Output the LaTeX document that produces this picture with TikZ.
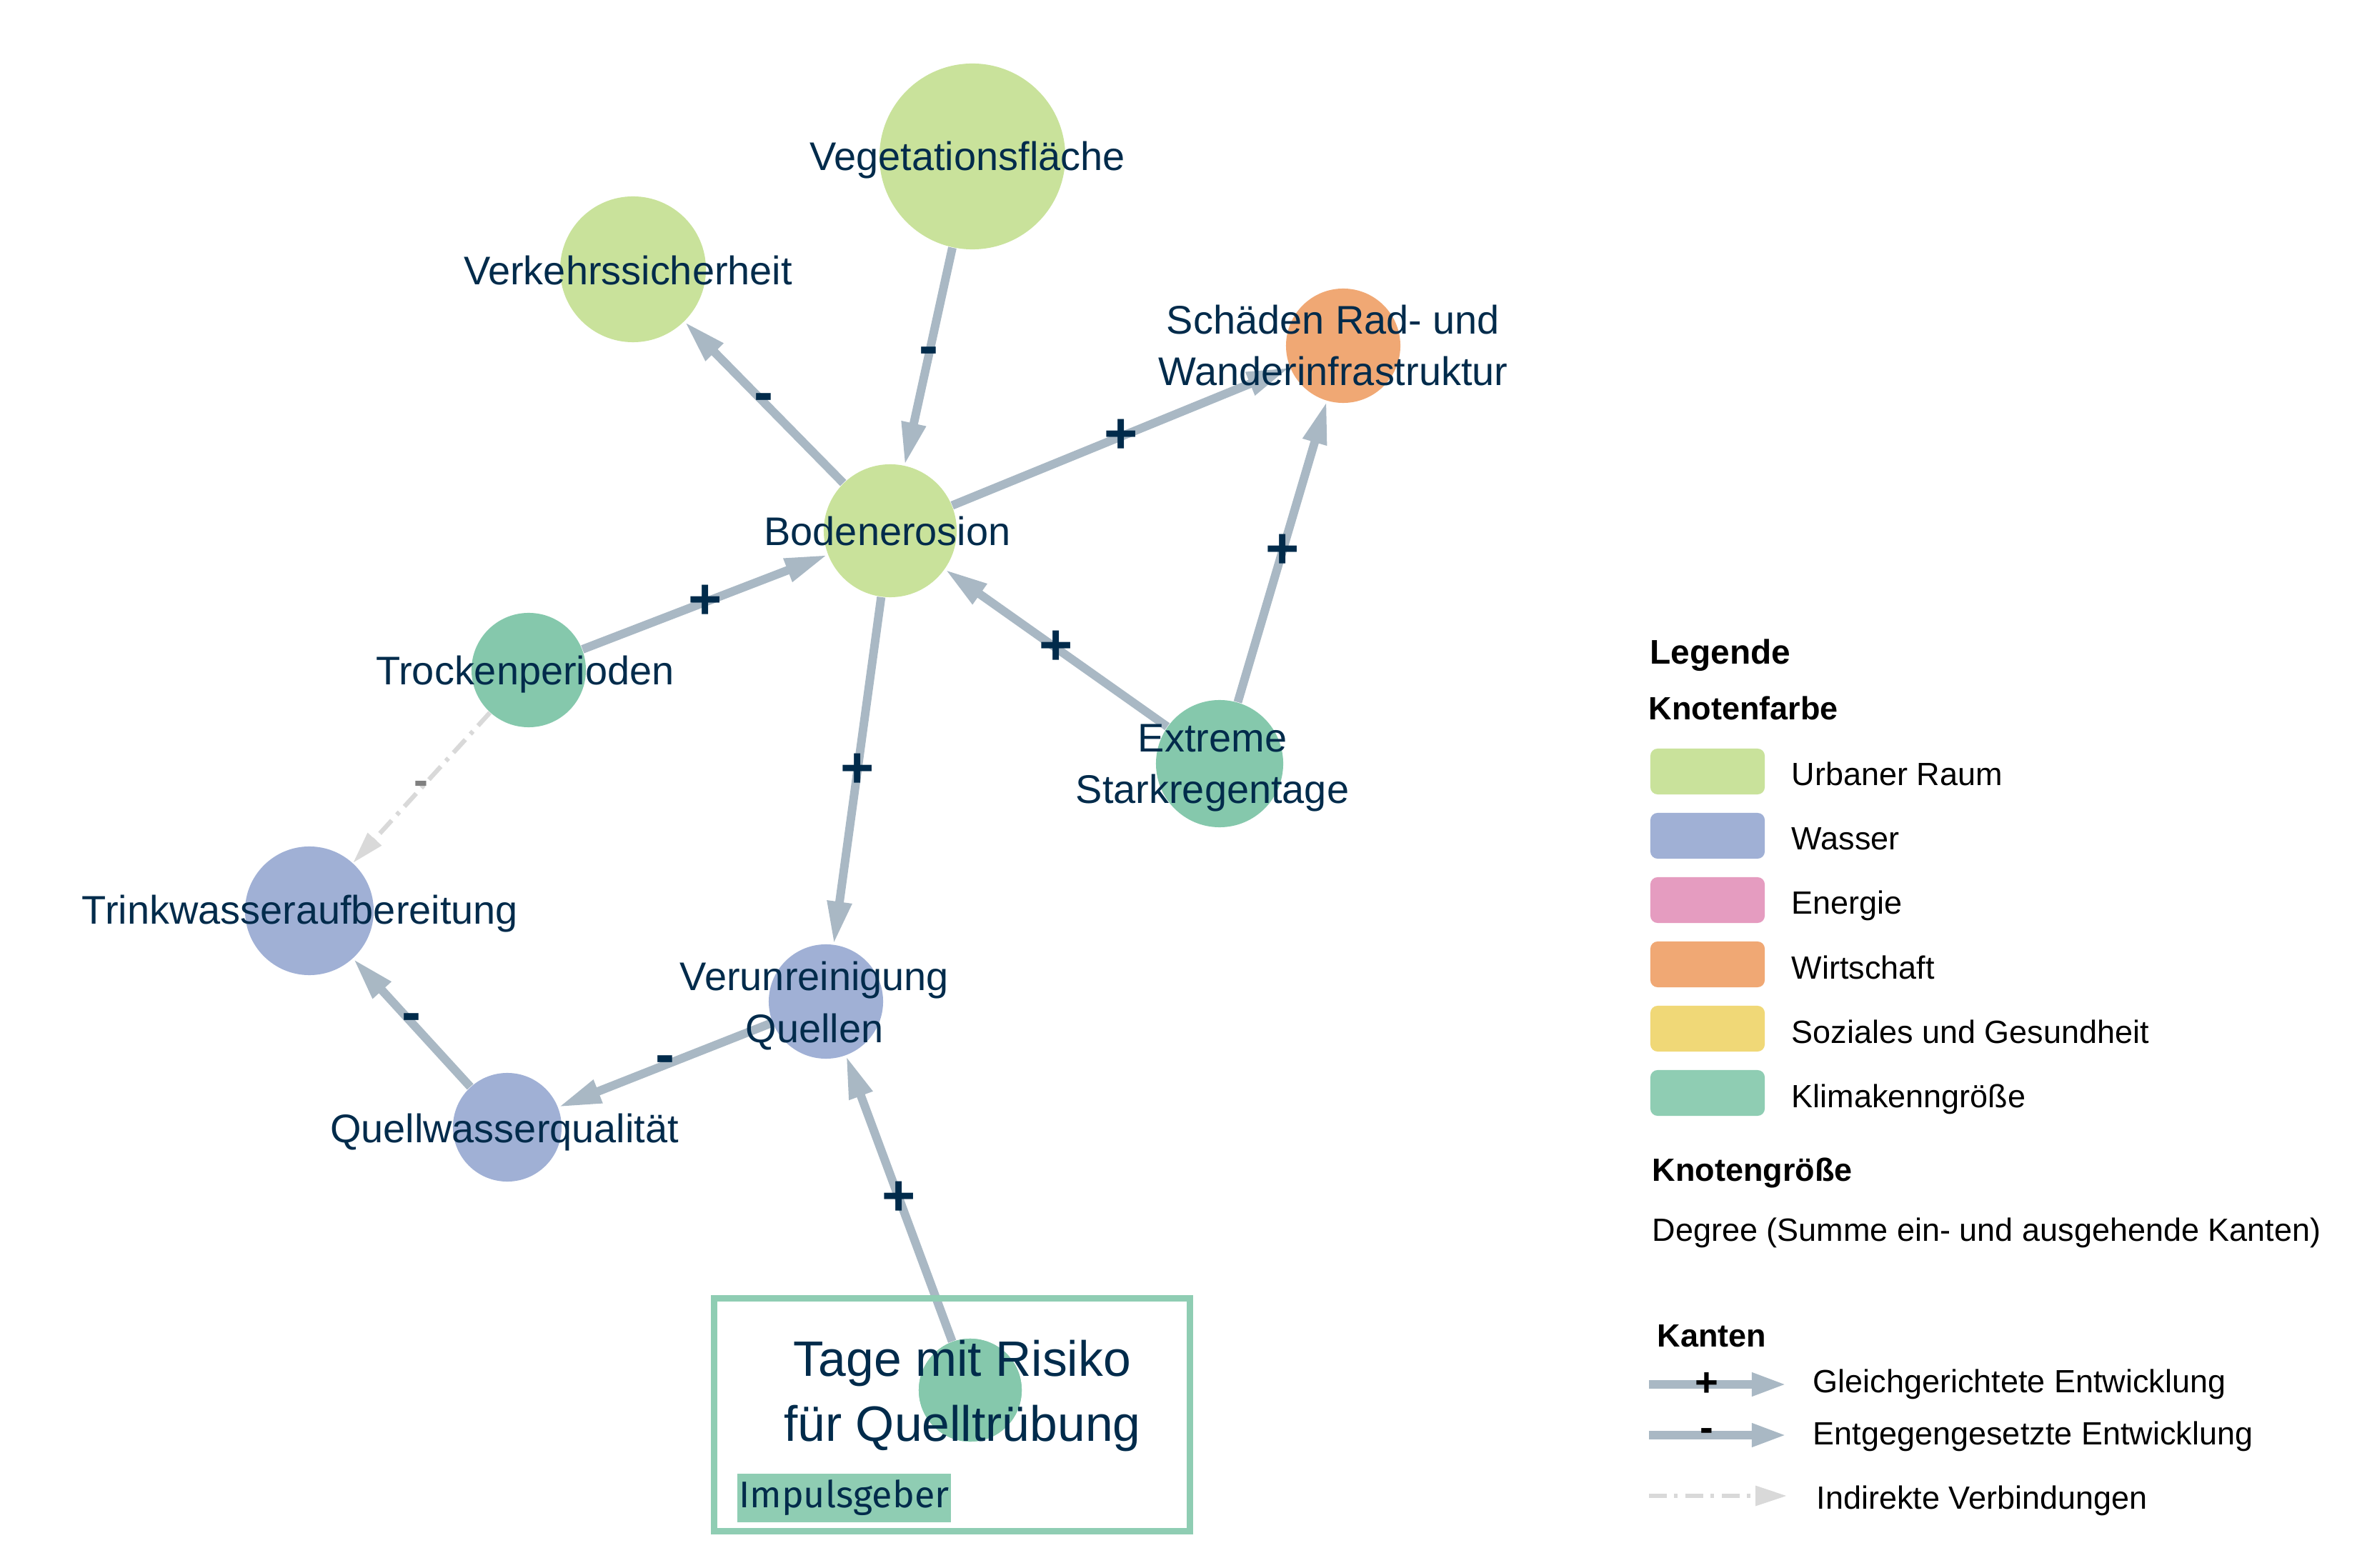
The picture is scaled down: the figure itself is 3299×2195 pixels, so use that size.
\documentclass[tikz,border=0pt]{standalone}
\usepackage{fontspec}
\setmainfont{Liberation Sans}
\newfontfamily\impfont{Fira Sans}
\usetikzlibrary{arrows.meta}
\definecolor{urban}{HTML}{C9E29B}
\definecolor{wasser}{HTML}{A0B0D5}
\definecolor{energie}{HTML}{E59CC0}
\definecolor{wirtschaft}{HTML}{F0A874}
\definecolor{soziales}{HTML}{F0D877}
\definecolor{klima}{HTML}{8FCDB3}
\definecolor{klimanode}{HTML}{85C8AC}
\definecolor{edgecol}{HTML}{A9B8C4}
\definecolor{navy}{HTML}{012B4B}
\definecolor{indirectcol}{HTML}{D9D9D9}
\begin{document}
\begin{tikzpicture}[x=0.01cm,y=-0.01cm,
  circ/.style={circle,inner sep=0pt,draw=none},
  lbl/.style={text=navy,font=\fontsize{15.9pt}{20.5pt}\selectfont,align=center,inner sep=0pt,anchor=base},
  boxtext/.style={text=navy,font=\fontsize{19.8pt}{25.6pt}\selectfont,align=center,inner sep=0pt,anchor=base},
  edge/.style={draw=edgecol,line width=3.4pt,-{Triangle[length=0.6cm,width=0.32cm]}},
  indirect/.style={draw=indirectcol,line width=1.8pt,dash pattern=on 7pt off 3pt on 1.5pt off 3pt,-{Triangle[length=0.45cm,width=0.25cm]}},
  sign/.style={text=navy,font=\bfseries\fontsize{23pt}{23pt}\selectfont,inner sep=0pt},
  legsign/.style={text=black,font=\bfseries\fontsize{16pt}{16pt}\selectfont,inner sep=0pt},
  legtitle/.style={font=\bfseries\fontsize{12.8pt}{15pt}\selectfont,anchor=base west,inner sep=0pt},
  legtext/.style={font=\fontsize{12.8pt}{15pt}\selectfont,anchor=base west,inner sep=0pt},
  swatch/.style={rounded corners=0.1cm,minimum width=1.6cm,minimum height=0.64cm,inner sep=0pt,draw=none}
]
\useasboundingbox (0,0) rectangle (3299,2195);

% circles
\node[circ,fill=urban,minimum size=2.6cm] (veg) at (1361,219) {};
\node[circ,fill=urban,minimum size=2.04cm] (verk) at (886,377) {};
\node[circ,fill=wirtschaft,minimum size=1.6cm] (sch) at (1880,484) {};
\node[circ,fill=urban,minimum size=1.86cm] (bod) at (1246,743) {};
\node[circ,fill=klimanode,minimum size=1.6cm] (troc) at (740,938) {};
\node[circ,fill=klimanode,minimum size=1.78cm] (ext) at (1707,1069) {};
\node[circ,fill=wasser,minimum size=1.8cm] (trink) at (433,1275) {};
\node[circ,fill=wasser,minimum size=1.6cm] (verun) at (1156,1402) {};
\node[circ,fill=wasser,minimum size=1.52cm] (quell) at (710,1578) {};
\node[circ,fill=klimanode,minimum size=1.44cm] (tage) at (1358,1946) {};

% edges
\draw[edge] (veg) -- node[sign]{-} (bod);
\draw[edge] (bod) -- node[sign]{-} (verk);
\draw[edge] (bod) -- node[sign]{+} (sch);
\draw[edge] (troc) -- node[sign]{+} (bod);
\draw[edge] (ext) -- node[sign]{+} (bod);
\draw[edge] (ext) -- node[sign]{+} (sch);
\draw[edge] (bod) -- node[sign]{+} (verun);
\draw[indirect] (troc) -- node[sign,text=gray,font=\bfseries\fontsize{17pt}{17pt}\selectfont]{-} (trink);
\draw[edge] (quell) -- node[sign]{-} (trink);
\draw[edge] (verun) -- node[sign]{-} (quell);
\draw[edge] (tage) -- node[sign]{+} (verun);

% impulse box
\node[draw=klima,line width=2.56pt,minimum width=6.66cm,minimum height=3.26cm,inner sep=0pt] (box) at (1332.5,1980.5) {};
\node[circ,fill=klimanode,minimum size=1.44cm] at (tage) {};
\node[fill=klima,anchor=north west,minimum width=2.99cm,minimum height=0.68cm,inner sep=0pt,text=navy] (imp) at (1031,2062) {\resizebox*{2.94cm}{0.5cm}{\impfont Impulsgeber}};

% node labels
\node[lbl] (tveg) at (1354,239) {Vegetationsfläche};
\node[lbl] (tverk) at (879,399) {Verkehrssicherheit};
\node[lbl] (tsch) at (1866,540) {Schäden Rad- und\\Wanderinfrastruktur};
\node[lbl] (tbod) at (1242,764) {Bodenerosion};
\node[lbl] (ttroc) at (735,959) {Trockenperioden};
\node[lbl] (text) at (1697,1125) {Extreme\\Starkregentage};
\node[lbl] (ttrink) at (420,1294) {Trinkwasseraufbereitung};
\node[lbl] (tverun) at (1140,1459) {Verunreinigung\\Quellen};
\node[lbl] (tquell) at (706,1599) {Quellwasserqualität};
\node[boxtext] (ttage) at (1347,2017) {Tage mit Risiko\\für Quelltrübung};

% legend
\node[legtitle,font=\bfseries\fontsize{13.6pt}{15pt}\selectfont] (leg) at (2309,930) {Legende};
\node[legtitle] (kf) at (2307,1008) {Knotenfarbe};
\node[swatch,fill=urban] (sw1) at (2390,1080) {};
\node[swatch,fill=wasser] (sw2) at (2390,1170) {};
\node[swatch,fill=energie] (sw3) at (2390,1260) {};
\node[swatch,fill=wirtschaft] (sw4) at (2390,1350) {};
\node[swatch,fill=soziales] (sw5) at (2390,1440) {};
\node[swatch,fill=klima] (sw6) at (2390,1530) {};
\node[legtext] (l1) at (2507,1100) {Urbaner Raum};
\node[legtext] (l2) at (2507,1190) {Wasser};
\node[legtext] (l3) at (2507,1280) {Energie};
\node[legtext] (l4) at (2507,1370) {Wirtschaft};
\node[legtext] (l5) at (2507,1460) {Soziales und Gesundheit};
\node[legtext] (l6) at (2507,1550) {Klimakenngröße};
\node[legtitle] (kg) at (2312,1653) {Knotengröße};
\node[legtext] (deg) at (2312,1737) {Degree (Summe ein- und ausgehende Kanten)};
\node[legtitle] (kan) at (2319,1885) {Kanten};
\coordinate (a1) at (2308,1938); \coordinate (b1) at (2501,1938);
\coordinate (a2) at (2308,2009); \coordinate (b2) at (2501,2009);
\coordinate (a3) at (2308,2094); \coordinate (b3) at (2501,2094);
\draw[edge,-{Triangle[length=0.49cm,width=0.3cm]}] (a1) -- node[legsign,pos=0.42]{+} (b1);
\draw[edge,-{Triangle[length=0.49cm,width=0.3cm]}] (a2) -- node[legsign,pos=0.42]{-} (b2);
\draw[indirect,-{Triangle[length=0.44cm,width=0.27cm]}] (a3) -- (b3);
\node[legtext] (k1) at (2537,1949) {Gleichgerichtete Entwicklung};
\node[legtext] (k2) at (2537,2022) {Entgegengesetzte Entwicklung};
\node[legtext] (k3) at (2542,2112) {Indirekte Verbindungen};
\end{tikzpicture}
\end{document}
